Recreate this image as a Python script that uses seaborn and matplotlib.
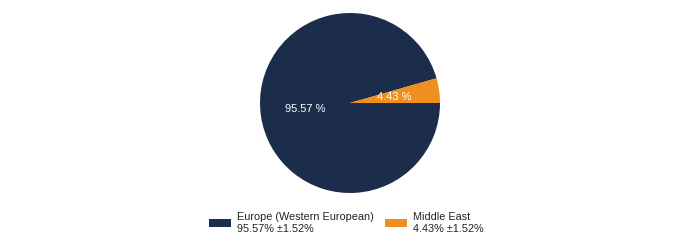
import matplotlib
matplotlib.use("Agg")
import matplotlib.pyplot as plt
import seaborn as sns
from matplotlib.patches import Patch

sns.set_theme(style="white")
plt.rcParams['font.family'] = ['Liberation Sans', 'DejaVu Sans']

categories = ["Europe (Western European)", "Middle East"]
values = [95.57, 4.43]
errors = [1.52, 1.52]
colors = ["#1B2D4A", "#EF8F1F"]

fig = plt.figure(figsize=(7, 2.5), dpi=100)
ax = fig.add_axes([260/700, 57/250, 180/700, 180/250])
wedges, texts, autotexts = ax.pie(
    values, colors=colors, startangle=0, counterclock=False,
    autopct=lambda p: f"{p:.2f} %", pctdistance=0.5,
    textprops=dict(color="white", fontsize=8),
    wedgeprops=dict(linewidth=0), radius=1,
)
ax.set_xlim(-1, 1)
ax.set_ylim(-1, 1)
ax.set_aspect("equal")
ax.axis("off")

handles = [Patch(facecolor=c, edgecolor="none") for c in colors]
labels = [f"{c}\n{v:.2f}% \u00b1{e:.2f}%" for c, v, e in zip(categories, values, errors)]
fig.legend(handles, labels, loc="upper left", bbox_to_anchor=(209/700, 1 - 212/250),
           ncol=2, frameon=False, fontsize=7.8, borderpad=0, borderaxespad=0,
           handlelength=2.05, handleheight=0.82, handletextpad=0.55,
           columnspacing=1.0, labelspacing=0.2)
for t in fig.legends[0].get_texts():
    t.set_linespacing(1.2)
    t.set_color("#222222")

fig.savefig("out.png", dpi=100)
